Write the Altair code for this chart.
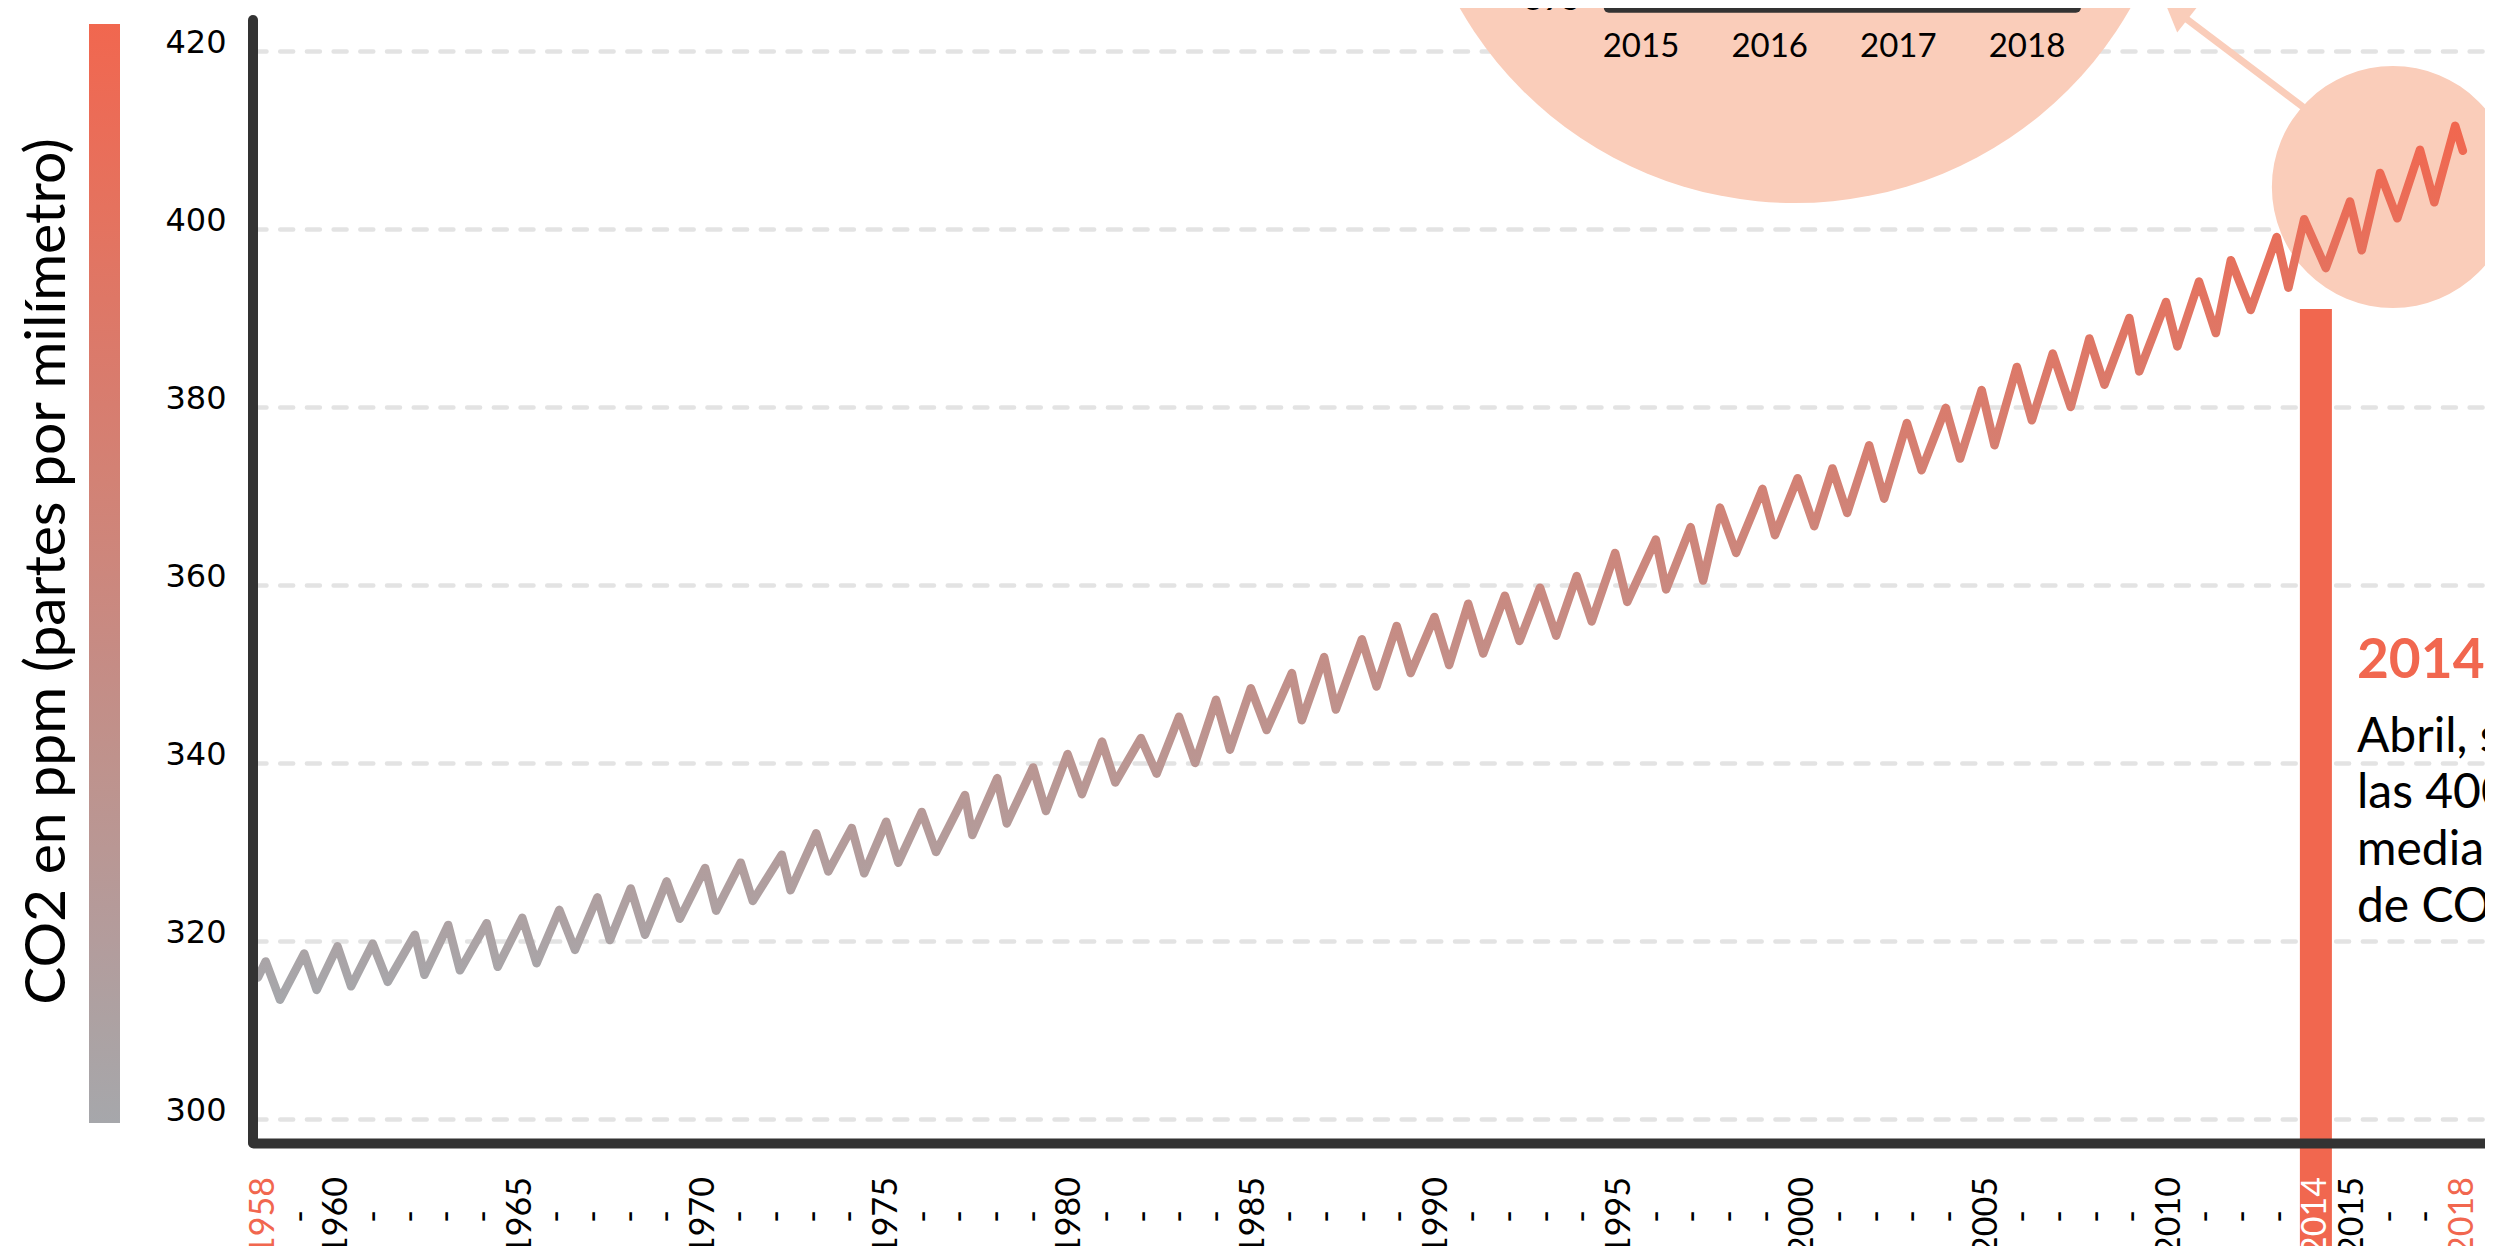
import altair as alt
import pandas as pd

# ---------------- data ----------------
# decimal year (x position on the year axis) and CO2 (ppm) of every vertex of the line
fecha = [1957.85, 1958.06, 1958.45, 1959.11, 1959.45, 1960.02, 1960.39, 1960.98, 1961.39,
         1962.13, 1962.39, 1963.04, 1963.36, 1964.09, 1964.39, 1965.06, 1965.45, 1966.07,
         1966.50, 1967.11, 1967.45, 1968.02, 1968.41, 1969.00, 1969.36, 1970.05, 1970.35,
         1971.02, 1971.35, 1972.14, 1972.38, 1973.08, 1973.41, 1974.05, 1974.39, 1974.99,
         1975.32, 1975.96, 1976.35, 1977.14, 1977.34, 1978.02, 1978.28, 1979.00, 1979.35,
         1979.94, 1980.33, 1980.88, 1981.24, 1981.94, 1982.37, 1982.98, 1983.42, 1983.99,
         1984.37, 1984.94, 1985.37, 1986.06, 1986.33, 1986.94, 1987.26, 1987.97, 1988.37,
         1988.92, 1989.30, 1989.95, 1990.35, 1990.87, 1991.28, 1991.87, 1992.27, 1992.83,
         1993.27, 1993.83, 1994.24, 1994.88, 1995.21, 1995.99, 1996.27, 1996.94, 1997.28,
         1997.74, 1998.18, 1998.90, 1999.24, 1999.86, 2000.31, 2000.81, 2001.21, 2001.81,
         2002.22, 2002.84, 2003.24, 2003.90, 2004.29, 2004.88, 2005.23, 2005.84, 2006.25,
         2006.82, 2007.31, 2007.82, 2008.23, 2008.91, 2009.18, 2009.91, 2010.22, 2010.81,
         2011.27, 2011.68, 2012.22, 2012.93, 2013.25, 2013.68, 2014.27, 2014.93, 2015.25,
         2015.75, 2016.22, 2016.84, 2017.23, 2017.80, 2018.01]
co2 = [315.9, 317.7, 313.4, 318.6, 314.5, 319.4, 314.9, 319.7, 315.4,
       320.7, 316.2, 321.8, 316.7, 322.0, 317.1, 322.6, 317.5, 323.5,
       319.0, 324.9, 320.1, 325.9, 320.7, 326.7, 322.5, 328.2, 323.4,
       328.8, 324.5, 329.7, 325.7, 332.1, 327.8, 332.7, 327.6, 333.4,
       328.8, 334.5, 330.0, 336.4, 331.9, 338.3, 333.2, 339.5, 334.6,
       341.0, 336.5, 342.4, 337.8, 342.8, 338.8, 345.2, 340.0, 347.1,
       341.5, 348.4, 343.7, 350.1, 344.8, 351.9, 346.0, 353.9, 348.6,
       355.4, 350.1, 356.4, 351.0, 357.9, 352.3, 358.8, 353.7, 359.7,
       354.3, 361.0, 355.9, 363.6, 358.1, 365.1, 359.5, 366.5, 360.5,
       368.7, 363.6, 370.8, 365.6, 372.0, 366.6, 373.1, 368.1, 375.7,
       369.7, 378.2, 372.9, 379.9, 374.2, 381.9, 375.7, 384.5, 378.5,
       386.0, 380.0, 387.7, 382.5, 390.0, 384.0, 391.8, 386.8, 394.1,
       388.3, 396.5, 390.9, 399.1, 393.4, 401.1, 395.6, 403.1, 397.6,
       406.3, 401.2, 408.9, 403.0, 411.6, 408.8]

anios_eje = list(range(1958, 2019))
ticks_co2 = [300, 320, 340, 360, 380, 400, 420]
leyenda_co2 = [300, 420]

titulo_y = "CO2 en ppm (partes por milímetro)"

# 2014 milestone: bar and annotation
hito_anio = [2014]
hito_tope = [391.0]
hito_base = [280.0]
nota_titulo = ["2014"]
nota_titulo_t = [2015.12]
nota_titulo_v = [349.55]
nota_lineas = ["Abril, se superan por primera vez", "las 400 ppm de",
               "media mensual", "de CO2 en la atmósfera"]
nota_lineas_t = [2015.12, 2015.12, 2015.12, 2015.12]
nota_lineas_v = [341.27, 334.91, 328.54, 322.17]

# magnifier circles (zoom bubble and its source) and arrow
lupa_t = [1999.79, 2016.10]
lupa_v = [446.29, 404.72]
lupa_diametro = [772, 242]
flecha_t = [2013.65]
flecha_v = [413.71]
flecha_t2 = [2010.29]
flecha_v2 = [424.16]
punta_t = [2010.18]
punta_v = [424.94]

# inset (zoomed) chart: only its x axis is visible
inset_anios = [2015, 2016, 2017, 2018]
inset_eje_desde = [2014.75]
inset_eje_hasta = [2018.38]
inset_min = [395]

# y-axis line extent
eje_y_desde = [297.30]
eje_y_hasta = [423.48]

# ---------------- layout / styles ----------------
GRAY = "#a6a7ab"
RED = "#f1674f"
PEACH = "#facdba"
DARK = "#333333"
GRID = "#e3e3e3"
FONT = "Lato"

W = 2232
H = 1135
X_DOM = [1957.7135, 1957.7135 + W / 36.65]
Y_DOM = [297.30, 424.83]

# where the inset's coordinates sit inside the main chart
INSET_T0 = 1995.585   # main-axis year of inset year 2015
INSET_K = 3.5108      # main-axis years per inset year
INSET_V = 424.85      # main-axis ppm of the inset's 395 baseline

xs = alt.Scale(domain=X_DOM, nice=False, zero=False)
ys = alt.Scale(domain=Y_DOM, nice=False, zero=False)

x_axis = alt.Axis(
    values=anios_eje, format="d",
    labelExpr="(datum.value % 5 == 0 || datum.value == 1958 || datum.value == 2014 || datum.value == 2018) ? datum.label : '-'",
    labelAngle=270, labelAlign="center", labelBaseline="middle",
    labelFont=FONT, labelFontSize=34, labelPadding=73, labelOverlap=False, labelFlush=False,
    labelBound=False,
    labelColor={"expr": "datum.value == 2014 ? 'white' : ((datum.value == 1958 || datum.value == 2018) ? '" + RED + "' : 'black')"},
    ticks=False, tickSize=0, grid=False, title=None,
    domain=True, domainColor=DARK, domainWidth=10, domainCap="round", zindex=1,
)
y_axis = alt.Axis(
    values=ticks_co2, format="d",
    grid=True, gridColor=GRID, gridWidth=4.5, gridDash=[13, 13.7], gridCap="round",
    domain=False, ticks=False, tickSize=0, labelOverlap=False,
    labelFont="DejaVu Sans", labelFontSize=32, labelColor="black", labelPadding=27, labelOffset=-8,
    title=titulo_y, titleFont=FONT, titleFontSize=57, titleFontWeight="normal", titleColor="black",
    titleAngle=270, titleX=-189, titleY=563, titleAlign="center", titleBaseline="alphabetic",
)


def X(f):
    return alt.X(f, scale=xs, axis=x_axis)


def Y(f):
    return alt.Y(f, scale=ys, axis=y_axis)


df_lupa = pd.DataFrame({"t": lupa_t, "v": lupa_v, "d": lupa_diametro})
lupas = alt.Chart(df_lupa).transform_calculate(area="datum.d * datum.d").mark_circle(
    color=PEACH, opacity=1
).encode(x=X("t:Q"), y=Y("v:Q"), size=alt.Size("area:Q", scale=None, legend=None))

df_flecha = pd.DataFrame({"t": flecha_t, "v": flecha_v, "t2": flecha_t2, "v2": flecha_v2})
flecha = alt.Chart(df_flecha).mark_rule(color=PEACH, strokeWidth=7).encode(
    x=X("t:Q"), y=Y("v:Q"), x2="t2:Q", y2="v2:Q",
)
df_punta = pd.DataFrame({"t": punta_t, "v": punta_v})
punta = alt.Chart(df_punta).mark_point(shape="triangle-up", filled=True, color=PEACH, opacity=1,
                                       size=1500, angle=308).encode(x=X("t:Q"), y=Y("v:Q"))

df_leg = pd.DataFrame({"co2": leyenda_co2, "fecha": [X_DOM[0], X_DOM[0]]})
legend_layer = alt.Chart(df_leg).mark_point(opacity=0).encode(
    x=X("fecha:Q"), y=Y("co2:Q"),
    color=alt.Color("co2:Q", scale=alt.Scale(domain=leyenda_co2, range=[GRAY, RED], interpolate="rgb"),
                    legend=alt.Legend(title=None, orient="none", legendX=-164, legendY=16,
                                      direction="vertical", gradientLength=1099, gradientThickness=31,
                                      gradientStrokeWidth=0, labelOpacity=0, padding=0)),
)

df_hito = pd.DataFrame({"anio": hito_anio, "tope": hito_tope, "base": hito_base})
barra = alt.Chart(df_hito).mark_rule(color=RED, strokeWidth=32, clip=False).encode(
    x=X("anio:Q"), y=Y("tope:Q"), y2="base:Q",
)

df_line = pd.DataFrame({"fecha": fecha, "co2": co2})
line = alt.Chart(df_line).mark_line(
    strokeWidth=8.5, strokeCap="round", strokeJoin="round",
    stroke={"gradient": "linear", "x1": 0, "x2": 0, "y1": 1, "y2": 0,
            "stops": [{"offset": 0, "color": GRAY}, {"offset": 1, "color": RED}]},
).encode(x=X("fecha:Q"), y=Y("co2:Q"))

df_eje = pd.DataFrame({"x": [X_DOM[0]], "y1": eje_y_desde, "y2": eje_y_hasta})
eje_y = alt.Chart(df_eje).mark_rule(color=DARK, strokeWidth=10, strokeCap="round").encode(
    x=X("x:Q"), y=Y("y1:Q"), y2="y2:Q",
)

df_nt = pd.DataFrame({"t": nota_titulo_t, "v": nota_titulo_v, "txt": nota_titulo})
nota_t = alt.Chart(df_nt).mark_text(font=FONT, fontSize=55, fontWeight="bold", color=RED,
                                    align="left", baseline="alphabetic").encode(
    x=X("t:Q"), y=Y("v:Q"), text="txt:N",
)
df_nl = pd.DataFrame({"t": nota_lineas_t, "v": nota_lineas_v, "txt": nota_lineas})
nota_l = alt.Chart(df_nl).mark_text(font=FONT, fontSize=48, color="black",
                                    align="left", baseline="alphabetic").encode(
    x=X("t:Q"), y=Y("v:Q"), text="txt:N",
)

# inset axis, mapped into the main chart's coordinates
map_a = f"{INSET_T0} + (datum.a - 2015) * {INSET_K}"
map_b = f"{INSET_T0} + (datum.b - 2015) * {INSET_K}"
df_ie = pd.DataFrame({"a": inset_eje_desde, "b": inset_eje_hasta, "m": inset_min})
inset_eje = alt.Chart(df_ie).transform_calculate(
    ta=map_a, tb=map_b, v=f"{INSET_V}"
).mark_rule(color=DARK, strokeWidth=10, strokeCap="round").encode(
    x=X("ta:Q"), x2="tb:Q", y=Y("v:Q"),
)
inset_ylab = alt.Chart(df_ie).transform_calculate(
    ta=map_a, v=f"{INSET_V}"
).mark_text(font=FONT, fontSize=33, color="black", align="right",
            baseline="alphabetic", dx=-28, dy=2).encode(
    x=X("ta:Q"), y=Y("v:Q"), text=alt.Text("m:Q", format="d"),
)
df_il = pd.DataFrame({"anio": inset_anios})
inset_lab = alt.Chart(df_il).transform_calculate(
    t=f"{INSET_T0} + (datum.anio - 2015) * {INSET_K}", v=f"{INSET_V}"
).mark_text(font=FONT, fontSize=33, color="black", align="center",
            baseline="alphabetic", dy=49).encode(
    x=X("t:Q"), y=Y("v:Q"), text=alt.Text("anio:Q", format="d"),
)

chart = alt.layer(
    lupas, flecha, punta, legend_layer, barra, line, eje_y, nota_t, nota_l,
    inset_eje, inset_ylab, inset_lab,
).properties(
    width=W, height=H,
    autosize=alt.AutoSizeParams(type="none"),
    padding={"left": 245, "top": 0, "right": 0, "bottom": 103},
).configure(background="white").configure_view(stroke=None).configure_axis(labelOverlap=False)

chart.save("out.html", embed_options={"renderer": "svg", "actions": False})
